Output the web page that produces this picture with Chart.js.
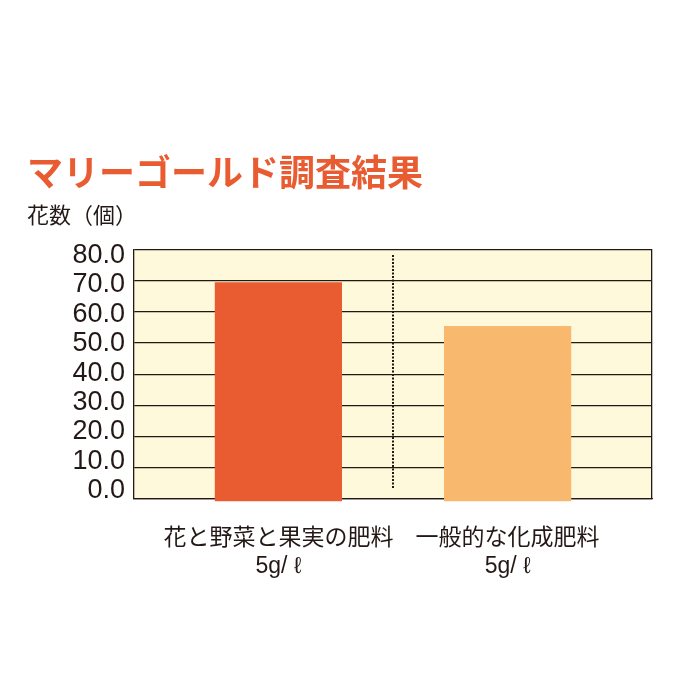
<!DOCTYPE html>
<html lang="ja">
<head>
<meta charset="utf-8">
<title>マリーゴールド調査結果</title>
<script src="https://cdn.jsdelivr.net/npm/chart.js@4"></script>
<style>
  html, body { margin: 0; padding: 0; background: #ffffff; }
  canvas { display: block; }
</style>
</head>
<body>
<canvas id="grafico" width="700" height="700"></canvas>
<script>
// Dados do gráfico
const categorias = [
    ['花と野菜と果実の肥料', '5g/ ℓ'],
    ['一般的な化成肥料', '5g/ ℓ']
];
const valores = [69.5, 55.5];
const coresBarras = ['#e95b31', '#f8b96f'];
const ticksY = [0, 10, 20, 30, 40, 50, 60, 70, 80];

const corTexto = '#231815';
const fonteLatina = "'Liberation Sans', 'Noto Sans CJK JP', sans-serif";
const fonteJp = "'Noto Sans CJK JP', sans-serif";

// Fundo creme da área do gráfico
const fundoArea = {
    id: 'fundoArea',
    beforeDraw(chart) {
        const { ctx, chartArea } = chart;
        ctx.save();
        ctx.fillStyle = '#fef9da';
        ctx.fillRect(chartArea.left, chartArea.top, chartArea.width, chartArea.height);
        ctx.restore();
    }
};

// Linha pontilhada entre as duas categorias
const meio = (categorias.length - 1) / 2;
const divisoria = [
    { x: meio, y: 3.5 },
    { x: meio, y: 78.4 }
];

new Chart(document.getElementById('grafico'), {
    type: 'bar',
    data: {
        datasets: [{
            type: 'bar',
            data: valores.map((v, i) => ({ x: i, y: v })),
            backgroundColor: coresBarras,
            borderWidth: 0,
            barPercentage: 0.555,
            categoryPercentage: 1,
            base: -0.8,
            clip: false
        }, {
            type: 'line',
            data: divisoria,
            borderColor: corTexto,
            borderWidth: 2,
            borderDash: [2, 1.5],
            pointRadius: 0,
            fill: false
        }]
    },
    options: {
        responsive: false,
        animation: false,
        layout: {
            padding: { left: 27, right: 48, top: 0, bottom: 94 }
        },
        scales: {
            x: {
                type: 'linear',
                offset: false,
                min: -0.63,
                max: 1.63,
                afterBuildTicks: axis => {
                    axis.ticks = categorias.map((c, i) => ({ value: i }));
                },
                ticks: {
                    autoSkip: false,
                    maxRotation: 0,
                    padding: 26,
                    color: corTexto,
                    font: { size: 23, family: fonteLatina, lineHeight: 1.2 },
                    callback: value => categorias[value]
                },
                grid: { display: false, drawTicks: false },
                border: { display: true, color: corTexto, width: 1.3 }
            },
            y: {
                min: 0,
                max: 80,
                weight: 0,
                ticks: { display: false, stepSize: 10 },
                grid: { color: corTexto, lineWidth: 1.3, drawTicks: false },
                border: { display: true, color: corTexto, width: 1.3 },
                afterFit: axis => { axis.width = 0; }
            },
            yl: {
                type: 'linear',
                position: 'left',
                weight: 1,
                min: -2.74,
                max: 82.05,
                afterBuildTicks: axis => {
                    axis.ticks = ticksY.map(v => ({ value: v }));
                },
                ticks: {
                    autoSkip: false,
                    padding: 9,
                    color: corTexto,
                    font: { size: 27, family: fonteLatina },
                    callback: value => value.toFixed(1)
                },
                grid: { display: false, drawTicks: false },
                border: { display: false },
                afterFit: axis => { axis.width = 107; }
            },
            yr: {
                type: 'linear',
                position: 'right',
                min: 0,
                max: 80,
                ticks: { display: false },
                grid: { display: false, drawTicks: false },
                border: { display: true, color: corTexto, width: 1.3 },
                afterFit: axis => { axis.width = 0; }
            }
        },
        plugins: {
            legend: { display: false },
            tooltip: { enabled: false },
            title: {
                display: true,
                text: 'マリーゴールド調査結果',
                align: 'start',
                color: '#e95b31',
                font: { size: 36, weight: 'bold', family: fonteJp, lineHeight: 1.2 },
                padding: { top: 151, bottom: 0 }
            },
            subtitle: {
                display: true,
                text: '花数（個）',
                align: 'start',
                color: corTexto,
                font: { size: 22, family: fonteJp, lineHeight: 1.2 },
                padding: { top: 7, bottom: 22 }
            }
        }
    },
    plugins: [fundoArea]
});
</script>
</body>
</html>
